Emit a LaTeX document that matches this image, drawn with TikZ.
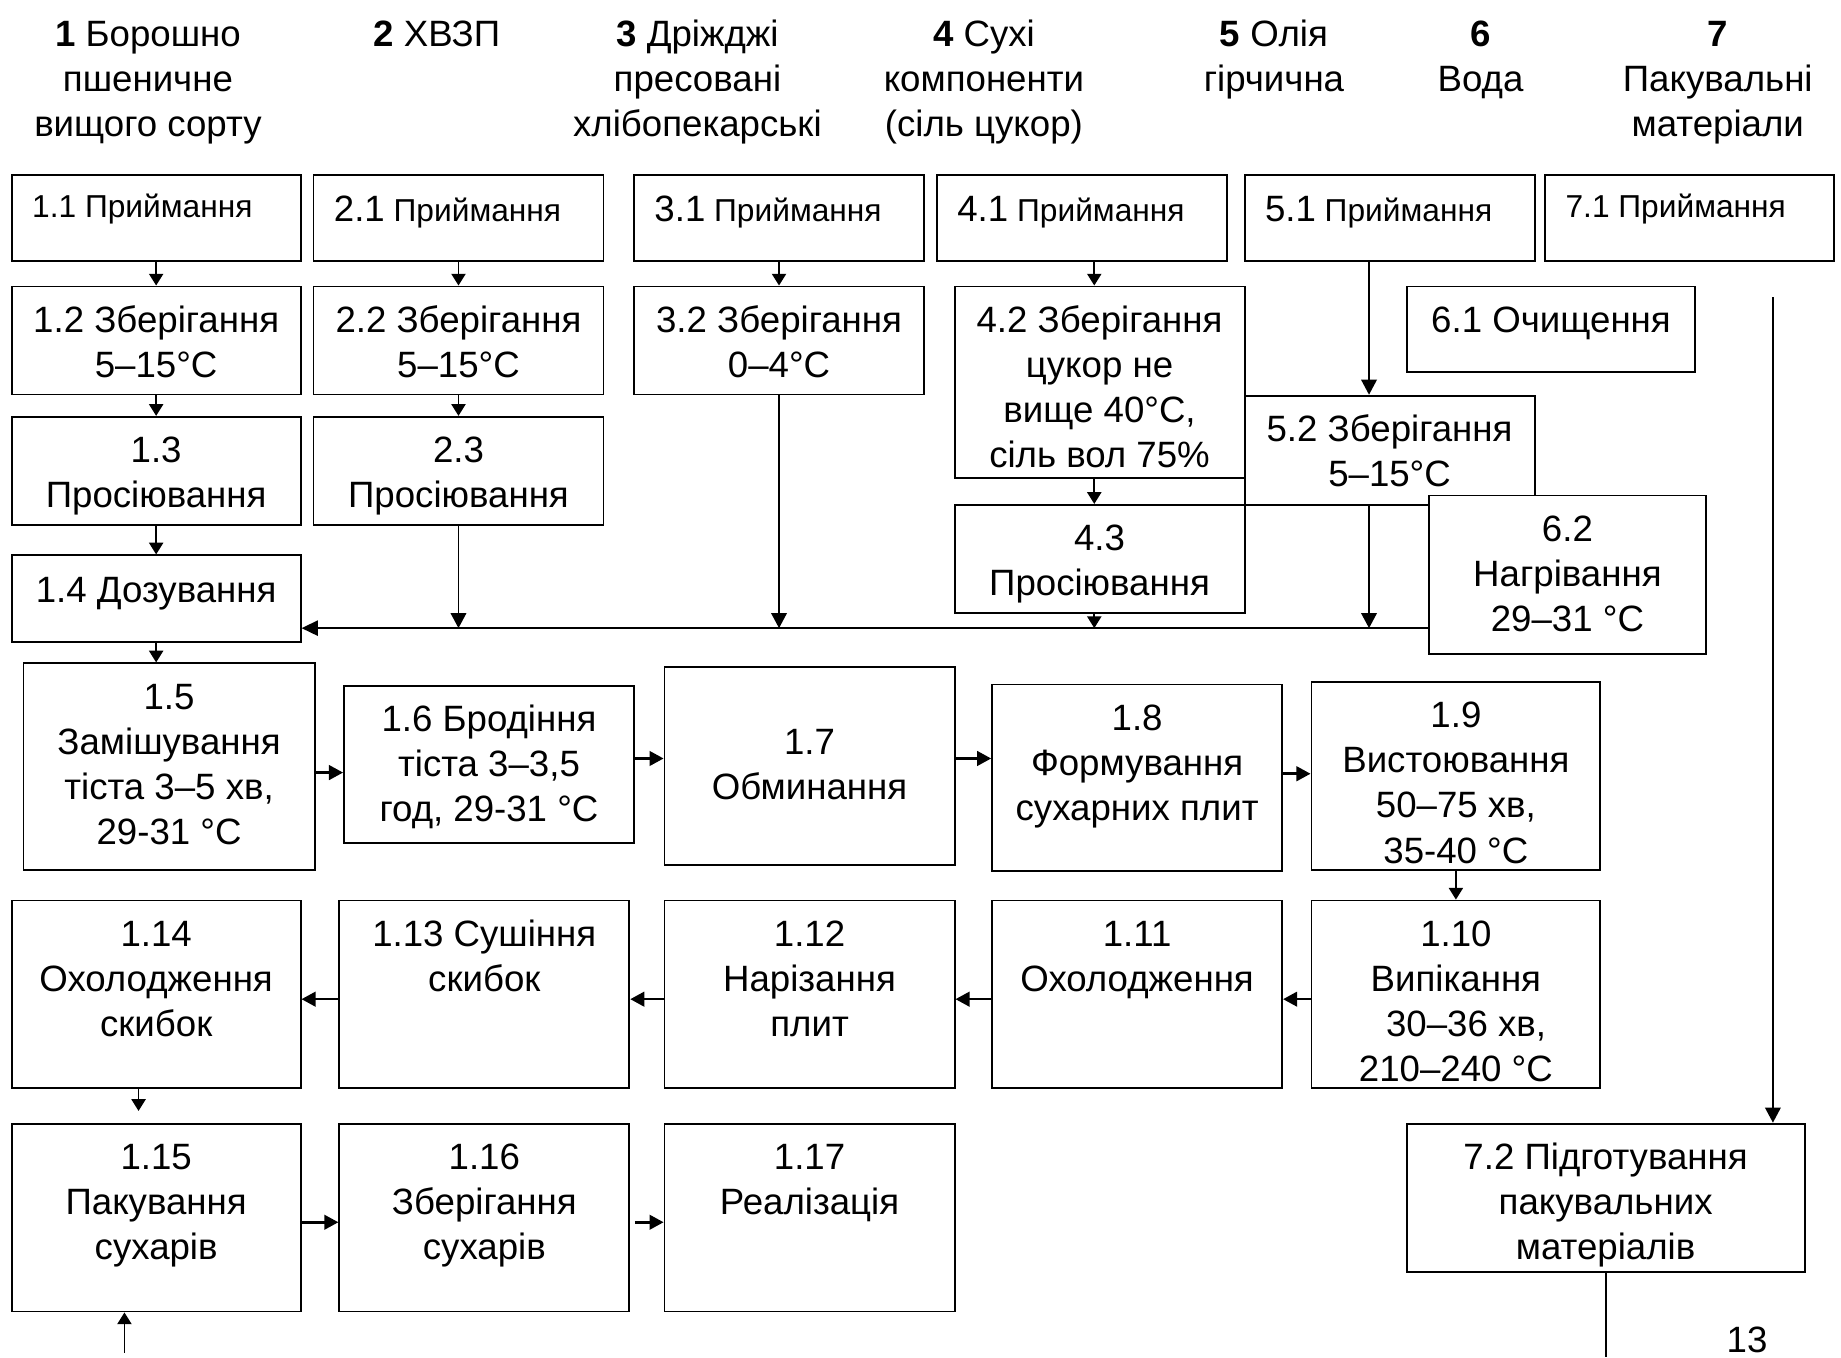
\documentclass[tikz,border=0pt]{standalone}
\usepackage{fontspec}
\setmainfont{Liberation Sans}
\usetikzlibrary{arrows.meta,calc}
\newcommand\fbig{\fontsize{15.6pt}{19.2pt}\selectfont}
\newcommand\fsmall{\fontsize{13.5pt}{16pt}\selectfont}
\newcommand\mkbox[5]{\node[bx, minimum width={((#4)-(#2))*0.5pt}, minimum height={((#5)-(#3))*0.5pt}] (#1) at ({((#2)+(#4))/2},{((#3)+(#5))/2}) {};}
\begin{document}
\begin{tikzpicture}[x=0.5pt,y=-0.5pt,
  bx/.style={draw, line width=0.8pt, fill=white, inner sep=0pt},
  tx/.style={font=\fbig, align=center, inner sep=0pt, anchor=north},
  hd/.style={font=\fbig, align=center, inner sep=0pt, anchor=north},
  sm/.style={font=\fsmall, inner sep=0pt, anchor=base west},
  ar/.style={line width=0.8pt, -{Triangle[length=5pt,width=6pt]}},
  lar/.style={line width=0.8pt, -{Triangle[length=6.4pt,width=6.6pt]}},
  har/.style={line width=1.1pt, -{Triangle[length=6pt,width=6.2pt]}},
  busline/.style={line width=1.1pt, -{Triangle[length=7pt,width=6.4pt]}},
  ln/.style={line width=0.8pt}]
\useasboundingbox (0,0) rectangle (1568,1156);

% headers
\node[hd] (h1) at (126,12) {\strut\textbf{1} Борошно\\пшеничне\\вищого сорту};
\node[hd] (h2) at (372,12) {\strut\textbf{2} ХВЗП};
\node[hd] (h3) at (594,12) {\strut\textbf{3} Дріжджі\\пресовані\\хлібопекарські};
\node[hd] (h4) at (838,12) {\strut\textbf{4} Сухі\\компоненти\\(сіль цукор)};
\node[hd] (h5) at (1085,12) {\strut\textbf{5} Олія\\гірчична};
\node[hd] (h6) at (1261,12) {\strut\textbf{6}\\Вода};
\node[hd] (h7) at (1463,12) {\strut\textbf{7}\\Пакувальні\\матеріали};

% row 1
\mkbox{b11}{10}{149}{256}{222}
\mkbox{b21}{267}{149}{514}{222}
\mkbox{b31}{540}{149}{787}{222}
\mkbox{b41}{798}{149}{1045}{222}
\mkbox{b51}{1060}{149}{1307}{222}
\mkbox{b71}{1316}{149}{1562}{222}
\node[sm] (t11) at (27,185) {1.1 Приймання};
\node[sm] (t21) at (284,189) {{\fbig 2.1} Приймання};
\node[sm] (t31) at (557,189) {{\fbig 3.1} Приймання};
\node[sm] (t41) at (815,189) {{\fbig 4.1} Приймання};
\node[sm] (t51) at (1077,189) {{\fbig 5.1} Приймання};
\node[sm] (t71) at (1333,185) {7.1 Приймання};

% row 2
\mkbox{b12}{10}{244}{256}{336}
\mkbox{b22}{267}{244}{514}{336}
\mkbox{b32}{540}{244}{787}{336}
\mkbox{b42}{813}{244}{1060}{407}
\mkbox{b61}{1198}{244}{1444}{317}
\mkbox{b52}{1060}{337}{1307}{430}
\mkbox{b13}{10}{355}{256}{447}
\mkbox{b23}{267}{355}{514}{447}
\mkbox{b14}{10}{473}{256}{547}
\mkbox{b43}{813}{430}{1060}{522}
\mkbox{b62}{1217}{422}{1453}{557}
\node[tx] (t12) at ([yshift=-6.2pt]b12.north) {\strut 1.2 Зберігання\\5–15°C};
\node[tx] (t22) at ([yshift=-6.2pt]b22.north) {\strut 2.2 Зберігання\\5–15°C};
\node[tx] (t32) at ([yshift=-6.2pt]b32.north) {\strut 3.2 Зберігання\\0–4°C};
\node[tx] (t42) at ([yshift=-6.2pt]b42.north) {\strut 4.2 Зберігання\\цукор не\\вище 40°C,\\сіль вол 75\%};
\node[tx] (t61) at ([yshift=-6.2pt]b61.north) {\strut 6.1 Очищення};
\node[tx] (t52) at ([yshift=-6.2pt]b52.north) {\strut 5.2 Зберігання\\5–15°C};
\node[tx] (t13) at ([yshift=-6.2pt]b13.north) {\strut 1.3\\Просіювання};
\node[tx] (t23) at ([yshift=-6.2pt]b23.north) {\strut 2.3\\Просіювання};
\node[tx] (t14) at ([yshift=-7pt]b14.north) {\strut 1.4 Дозування};
\node[tx] (t43) at ([yshift=-6.2pt]b43.north) {\strut 4.3\\Просіювання};
\node[tx] (t62) at ([yshift=-6.2pt]b62.north) {\strut 6.2\\Нагрівання\\29–31 °C};

% row 3
\mkbox{b15}{20}{565}{268}{741}
\mkbox{b16}{293}{584}{540}{718}
\mkbox{b17}{566}{568}{813}{737}
\mkbox{b18}{845}{583}{1092}{742}
\mkbox{b19}{1117}{581}{1363}{741}
\node[tx] (t15) at ([yshift=-6.2pt]b15.north) {\strut 1.5\\Замішування\\тіста 3–5 хв,\\29-31 °C};
\node[tx] (t16) at ([yshift=-6.2pt]b16.north) {\strut 1.6 Бродіння\\тіста 3–3,5\\год, 29-31 °C};
\node[tx] (t17) at ([yshift=-24.2pt]b17.north) {\strut 1.7\\Обминання};
\node[tx] (t18) at ([yshift=-6.2pt]b18.north) {\strut 1.8\\Формування\\сухарних плит};
\node[tx] (t19) at ([yshift=-6.2pt]b19.north) {\strut 1.9\\Вистоювання\\50–75 хв,\\35-40 °C};

% row 4
\mkbox{b114}{10}{767}{256}{927}
\mkbox{b113}{289}{767}{536}{927}
\mkbox{b112}{566}{767}{813}{927}
\mkbox{b111}{845}{767}{1092}{927}
\mkbox{b110}{1117}{767}{1363}{927}
\node[tx] (t114) at ([yshift=-6.2pt]b114.north) {\strut 1.14\\Охолодження\\скибок};
\node[tx] (t113) at ([yshift=-6.2pt]b113.north) {\strut 1.13 Сушіння\\скибок};
\node[tx] (t112) at ([yshift=-6.2pt]b112.north) {\strut 1.12\\Нарізання\\плит};
\node[tx] (t111) at ([yshift=-6.2pt]b111.north) {\strut 1.11\\Охолодження};
\node[tx] (t110) at ([yshift=-6.2pt]b110.north) {\strut 1.10\\Випікання\\\hphantom{0}30–36 хв,\\210–240 °C};

% row 5
\mkbox{b115}{10}{957}{256}{1117}
\mkbox{b116}{289}{957}{536}{1117}
\mkbox{b117}{566}{957}{813}{1117}
\mkbox{b72}{1198}{957}{1537}{1083}
\node[tx] (t115) at ([yshift=-6.2pt]b115.north) {\strut 1.15\\Пакування\\сухарів};
\node[tx] (t116) at ([yshift=-6.2pt]b116.north) {\strut 1.16\\Зберігання\\сухарів};
\node[tx] (t117) at ([yshift=-6.2pt]b117.north) {\strut 1.17\\Реалізація};
\node[tx] (t72) at ([yshift=-6.2pt]b72.north) {\strut 7.2 Підготування\\пакувальних\\матеріалів};

\node[font=\fbig, inner sep=0pt] (pg) at (1488,1141) {13};

% helper coordinates
\coordinate (bus) at (0,535);
\coordinate (x4) at (932,0);
\coordinate (x5) at (1166,0);
\coordinate (x7) at (1510,253);
\coordinate (x114) at (118,0);
\coordinate (in115) at (106,1152);
\coordinate (out72) at (1368,1156);

% connectors, inputs
\draw[ar] (b11.south) -- (b12.north);
\draw[ar] (b12.south) -- (b13.north);
\draw[ar] (b13.south) -- (b14.north);
\draw[ar] (b14.south) -- (b14.south |- b15.north);
\draw[ar] (b21.south) -- (b22.north);
\draw[ar] (b22.south) -- (b23.north);
\draw[lar] (b23.south) -- (b23.south |- bus);
\draw[ar] (b31.south) -- (b32.north);
\draw[lar] (b32.south) -- (b32.south |- bus);
\draw[ar] (x4 |- b41.south) -- (x4 |- b42.north);
\draw[ar] (x4 |- b42.south) -- (x4 |- b43.north);
\draw[ar] (x4 |- b43.south) -- (x4 |- bus);
\draw[lar] (x5 |- b51.south) -- (x5 |- b52.north);
\draw[lar] (x5 |- b52.south) -- (x5 |- bus);
\draw[busline] (b62.west |- bus) -- (b14.east |- bus);
\draw[lar] (x7) -- (x7 |- b72.north);
\draw[ln] (b72.south) -- (b72.south |- out72);

% main line
\draw[har] (b15.east |- 0,658) -- (b16.west |- 0,658);
\draw[har] (b16.east |- 0,646) -- (b17.west |- 0,646);
\draw[har] (b17.east |- 0,646) -- (b18.west |- 0,646);
\draw[har] (b18.east |- 0,659) -- (b19.west |- 0,659);
\draw[ar] (b19.south) -- (b110.north);
\draw[har] (b110.west |- 0,851) -- (b111.east |- 0,851);
\draw[har] (b111.west |- 0,851) -- (b112.east |- 0,851);
\draw[har] (b112.west |- 0,851) -- (b113.east |- 0,851);
\draw[har] (b113.west |- 0,851) -- (b114.east |- 0,851);
\draw[ar, shorten >=5pt] (x114 |- b114.south) -- (x114 |- b115.north);
\draw[ar] (in115) -- (in115 |- b115.south);
\draw[har] (b115.east |- 0,1041) -- (b116.west |- 0,1041);
\draw[har, shorten <=2pt] (b116.east |- 0,1041) -- (b117.west |- 0,1041);
\end{tikzpicture}
\end{document}
